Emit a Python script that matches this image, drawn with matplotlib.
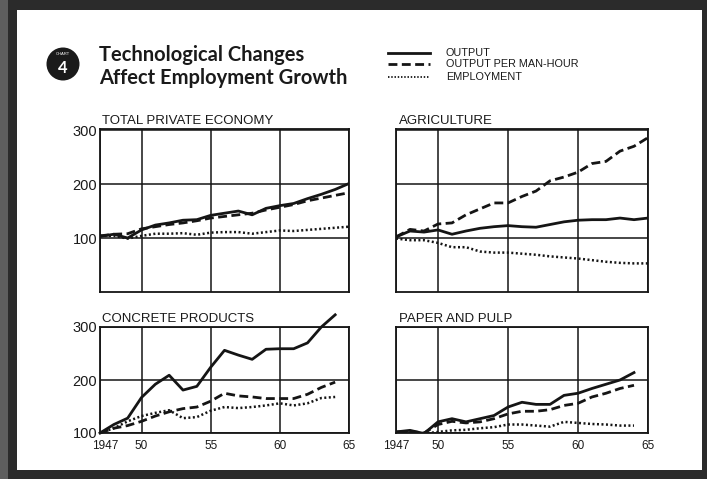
import matplotlib
matplotlib.use("Agg")
import matplotlib.pyplot as plt
import matplotlib.patches as patches
import matplotlib.transforms as mtransforms
from matplotlib.lines import Line2D

# index values, 1947 onward
years = list(range(1947, 1966))
years_to64 = list(range(1947, 1965))

total_output = [103, 107, 100, 115, 124, 128, 133, 134, 142, 146, 150, 143, 155, 160, 164, 173, 181, 190, 201]
total_opmh = [104, 107, 108, 117, 121, 125, 128, 132, 137, 140, 143, 146, 152, 157, 162, 169, 174, 179, 184]
total_empl = [104, 104, 99, 104, 108, 108, 109, 106, 110, 111, 111, 108, 111, 114, 113, 115, 117, 119, 121]

agri_output = [102, 113, 111, 115, 107, 113, 118, 121, 123, 121, 120, 125, 130, 133, 134, 134, 137, 134, 137]
agri_opmh = [102, 116, 113, 126, 128, 143, 154, 165, 165, 177, 187, 206, 213, 222, 238, 242, 261, 270, 286]
agri_empl = [99, 96, 96, 91, 83, 83, 75, 73, 73, 71, 69, 66, 64, 62, 59, 56, 54, 53, 53]

concrete_output = [100, 116, 128, 167, 192, 209, 181, 188, 224, 256, 247, 239, 258, 259, 259, 270, 300, 323]
concrete_opmh = [100, 109, 114, 122, 132, 140, 146, 149, 160, 175, 170, 168, 165, 165, 165, 173, 186, 196]
concrete_empl = [100, 109, 122, 132, 138, 143, 128, 130, 142, 149, 147, 149, 152, 156, 152, 156, 166, 168]

paper_output = [102, 105, 99, 121, 127, 121, 127, 133, 149, 158, 154, 154, 171, 175, 184, 192, 200, 214]
paper_opmh = [102, 103, 100, 116, 122, 119, 121, 127, 136, 141, 141, 144, 152, 156, 168, 175, 184, 190]
paper_empl = [100, 100, 99, 102, 105, 106, 109, 111, 116, 116, 114, 112, 121, 119, 117, 116, 114, 114]

panel_titles = ["TOTAL PRIVATE ECONOMY", "AGRICULTURE", "CONCRETE PRODUCTS", "PAPER AND PULP"]
legend_labels = ["OUTPUT", "OUTPUT PER MAN-HOUR", "EMPLOYMENT"]
x_ticks = [1947, 1950, 1955, 1960, 1965]
x_ticklabels = ["1947", "50", "55", "60", "65"]

W, H = 707, 479
fig = plt.figure(figsize=(W / 100, H / 100), dpi=100)
fig.patch.set_facecolor("#2b2b2b")

# background: card, border, badge, title, legend
bg = fig.add_axes([0, 0, 1, 1])
bg.set_xlim(0, W)
bg.set_ylim(H, 0)
bg.axis("off")
bg.add_patch(patches.Rectangle((0, 0), 8, H, color="#5e5e5e", lw=0))
bg.add_patch(patches.Rectangle((17, 10), 685, 460, color="white", lw=0))
bg.add_patch(patches.Circle((63, 64), 16.5, color="#1a1a1a", lw=0))
bg.text(63, 54, "CHART", color="white", fontsize=3, ha="center", va="center",
        family="Liberation Sans")
bg.text(63, 68, "4", color="white", fontsize=12, ha="center", va="center",
        fontweight="bold", family="Lato")
bg.text(99, 55, "Technological Changes", fontsize=14.5, fontweight="bold",
        family="Lato", va="center", color="#1a1a1a")
bg.text(99, 78, "Affect Employment Growth", fontsize=14.5, fontweight="bold",
        family="Lato", va="center", color="#1a1a1a")

solid = dict(color="#151515", lw=2.0, ls="-")
dashed = dict(color="#151515", lw=2.0, ls=(0, (3.2, 1.6)))
dotted = dict(color="#151515", lw=1.8, ls=(0, (0.8, 1.0)))
styles = [solid, dashed, dotted]

leg_y = [53, 64, 77]
for lbl, st, yy in zip(legend_labels, styles, leg_y):
    s = dict(st)
    if st is dotted:
        s["lw"] = 1.3
    bg.add_line(Line2D([388, 430], [yy, yy], **s))
    bg.text(446, yy, lbl, fontsize=7.8, va="center", family="Liberation Sans",
            color="#1a1a1a")

panels = [
    ([100, 292, 249, 163], (0, 302), years, [total_output, total_opmh, total_empl]),
    ([396, 292, 252, 163], (0, 302), years, [agri_output, agri_opmh, agri_empl]),
    ([100, 433, 249, 106], (100, 300), years_to64, [concrete_output, concrete_opmh, concrete_empl]),
    ([396, 433, 252, 106], (100, 300), years_to64, [paper_output, paper_opmh, paper_empl]),
]

for i, (box, ylim, xs, series) in enumerate(panels):
    x0, ybot, w, h = box
    ax = fig.add_axes([x0 / W, 1 - ybot / H, w / W, h / H])
    ax.set_facecolor("white")
    ax.set_xlim(1947, 1965)
    ax.set_ylim(*ylim)
    ax.set_xticks(x_ticks)
    ax.set_yticks([100, 200, 300])
    ax.grid(True, color="#151515", lw=1.1)
    ax.set_axisbelow(True)
    for sp in ax.spines.values():
        sp.set_linewidth(1.3)
        sp.set_color("#151515")
    ax.tick_params(length=0, labelsize=10.5, pad=2, colors="#1a1a1a")
    for vals, st in zip(series, styles):
        ln, = ax.plot(xs, vals, **st)
        if i == 2:
            ln.set_clip_on(False)
    if i % 2 == 0:
        ax.set_yticklabels(["100", "200", "300"], family="Liberation Sans")
    else:
        ax.set_yticklabels([])
    if i >= 2:
        ax.set_xticklabels(x_ticklabels, family="Liberation Sans", fontsize=8.5)
        ax.tick_params(axis="x", pad=5)
        if i == 2:
            first = ax.get_xticklabels()[0]
            first.set_transform(first.get_transform() +
                                mtransforms.ScaledTranslation(5 / 100, 0, fig.dpi_scale_trans))
    else:
        ax.set_xticklabels([])
    ax.text(0.01, 1.015, panel_titles[i], transform=ax.transAxes, fontsize=9.5,
            family="Liberation Sans", va="bottom", ha="left", color="#1a1a1a")

fig.savefig("out.png", dpi=100, facecolor=fig.get_facecolor())
